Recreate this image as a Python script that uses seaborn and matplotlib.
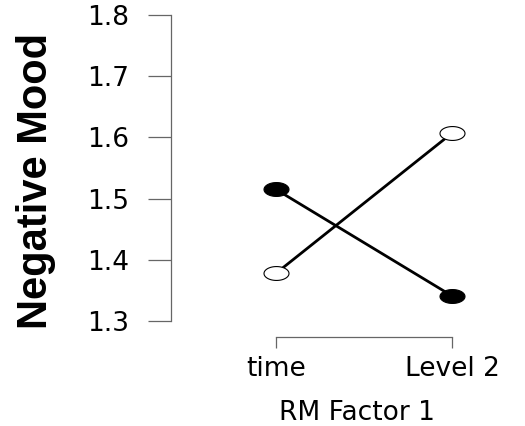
import numpy as np
import pandas as pd
import matplotlib as mpl
mpl.use('Agg')
from matplotlib import pyplot as plt
from matplotlib.path import Path
import seaborn as sns

# values
levels = ['time', 'Level 2']
filled_mood = [1.515, 1.341]
open_mood = [1.378, 1.607]
y_ticks = [1.3, 1.4, 1.5, 1.6, 1.7, 1.8]

dframe = pd.DataFrame({
    'RM Factor 1': levels * 2,
    'Negative Mood': filled_mood + open_mood,
    'Group': ['filled'] * 2 + ['open'] * 2,
})

sns.set_style("ticks")  # style before plot
plt.rcParams['font.family'] = ['DejaVu Sans']
plt.rcParams['text.color'] = 'black'
plt.rcParams['axes.labelcolor'] = 'black'

# the original picture is stretched sideways, so the circles are ellipses
t = np.linspace(0, 2 * np.pi, 61)
ellipse = Path(np.column_stack([1.8 * np.cos(t), np.sin(t)]), closed=True)

fig = plt.figure(figsize=(5.25, 4.26), dpi=100)
ax = fig.add_axes([171 / 525, 89 / 426, 334 / 525, 332 / 426])

sns.lineplot(ax=ax, data=dframe, x='RM Factor 1', y='Negative Mood', hue='Group',
             palette=['black', 'black'], sort=False, legend=False,
             marker=ellipse, markersize=18, markeredgecolor='black',
             markeredgewidth=0.8, linewidth=2.0)
ax.lines[1].set_markerfacecolor('white')

ax.set_xlim(-105 / 176, 229 / 176)
ax.set_ylim(1.3 - 16 / 612, 1.8 + 10 / 612)
ax.set_xticks([0, 1])
ax.set_xticklabels(levels)
ax.set_yticks(y_ticks)
ax.set_yticklabels([f'{v:.1f}' for v in y_ticks])

sns.despine(ax=ax)
ax.spines['left'].set_bounds(1.3, 1.8)
ax.spines['bottom'].set_bounds(0, 1)
for side in ['left', 'bottom']:
    ax.spines[side].set_color('#666666')
    ax.spines[side].set_linewidth(0.9)

ax.tick_params(axis='y', length=16.5, width=0.9, color='#666666', pad=14,
               labelsize=19, labelcolor='black')
ax.tick_params(axis='x', length=8, width=0.9, color='#666666', pad=6,
               labelsize=19, labelcolor='black')

ax.set_xlabel('RM Factor 1', fontsize=19, color='black')
ax.xaxis.label.set_va('baseline')
ax.xaxis.set_label_coords(357 / 525, 6 / 426, transform=fig.transFigure)

ax.set_ylabel('Negative Mood', fontsize=30, fontweight='bold', color='black',
              family=['Liberation Sans', 'DejaVu Sans'])
ax.yaxis.label.set_va('baseline')
ax.yaxis.set_label_coords(47 / 525, 245 / 426, transform=fig.transFigure)

fig.savefig('out.png', dpi=100)
